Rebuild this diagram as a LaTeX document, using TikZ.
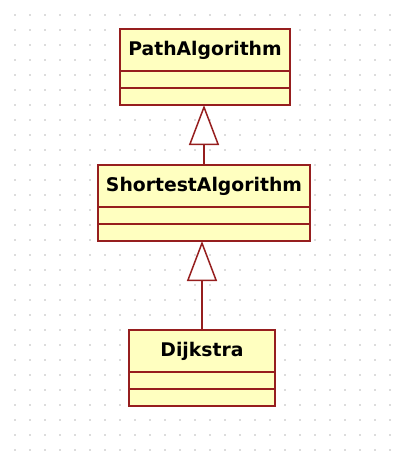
\documentclass[tikz,border=0pt]{standalone}
\usepackage{fontspec}
\setmainfont{DejaVu Sans}
\usepackage{tikz}
\usetikzlibrary{positioning,arrows.meta}
\definecolor{umlborder}{RGB}{150,30,30}
\definecolor{umlfill}{RGB}{255,255,192}
\definecolor{griddot}{RGB}{185,185,185}
\tikzstyle{classname}=[draw=umlborder, fill=umlfill, line width=1.5pt, outer sep=0pt, inner sep=0pt, minimum height=42pt, font=\bfseries\fontsize{18.8}{22}\selectfont]
\tikzstyle{compart}=[draw=umlborder, fill=umlfill, line width=1.5pt, outer sep=0pt, inner sep=0pt, minimum height=17pt]
\tikzstyle{extends}=[draw=umlborder, line width=1.5pt, -{Triangle[open, fill=white, length=40pt, width=30pt]}]

\begin{document}
\begin{tikzpicture}[x=1pt,y=-1pt]
\useasboundingbox (0,0) rectangle (398,451);
% dotted grid
\foreach \i in {0,...,25} {
	\foreach \j in {0,...,29} {
		\fill[griddot] (15+15*\i, 15+15*\j) circle (0.8pt);
	}
}
% classes
\node[classname, minimum width=170pt] (path) at (205,50) {PathAlgorithm};
\node[compart, minimum width=170pt, below=0pt of path] (pathattr) {};
\node[compart, minimum width=170pt, below=0pt of pathattr] (pathops) {};

\node[classname, minimum width=212pt] (shortest) at (204,186) {ShortestAlgorithm};
\node[compart, minimum width=212pt, below=0pt of shortest] (shortestattr) {};
\node[compart, minimum width=212pt, below=0pt of shortestattr] (shortestops) {};

\node[classname, minimum width=146pt] (dijkstra) at (202,351) {Dijkstra};
\node[compart, minimum width=146pt, below=0pt of dijkstra] (dijkstraattr) {};
\node[compart, minimum width=146pt, below=0pt of dijkstraattr] (dijkstraops) {};
% generalisation
\draw[extends] (shortest.north) -- (shortest.north |- pathops.south);
\draw[extends] (dijkstra.north) -- (dijkstra.north |- shortestops.south);
\end{tikzpicture}
\end{document}
